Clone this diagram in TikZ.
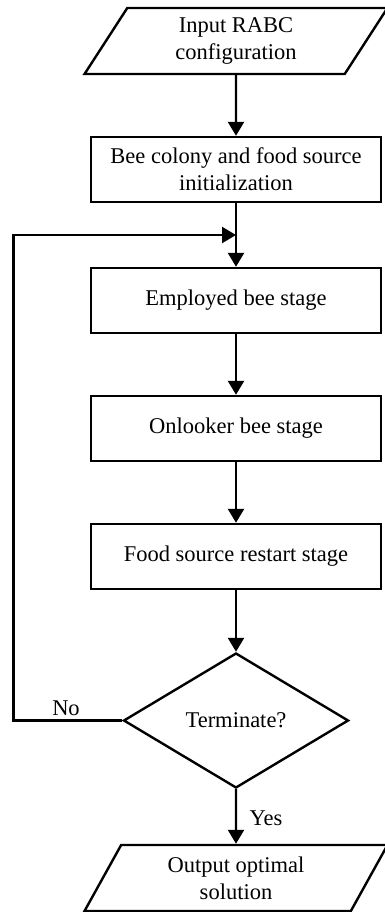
\documentclass[tikz,border=0pt]{standalone}
\usepackage{fontspec}
\setmainfont{Liberation Serif}
\usetikzlibrary{arrows.meta}
\usetikzlibrary{shapes.geometric}
\usetikzlibrary{calc}

\tikzset{
  io/.style={draw, trapezium, trapezium left angle=63, trapezium right angle=117,
    trapezium stretches=true, minimum width=303pt, minimum height=66pt,
    align=center, inner sep=0pt},
  stage/.style={draw, rectangle, minimum width=290pt, minimum height=65pt, align=center},
  test/.style={draw, diamond, minimum width=225pt, minimum height=135pt, inner sep=0pt}
}

\begin{document}
\begin{tikzpicture}[>={Triangle[length=14pt,width=16pt]},x=1pt,y=-1pt,line width=2.4pt,
  font=\fontsize{22.5}{27}\selectfont]
\useasboundingbox (0,0) rectangle (385,912);
\node[io] (in) at (236,41) {Input RABC\\configuration};
\node[stage] (init) at (236,169.5) {Bee colony and food source\\initialization};
\node[stage] (emp) at (236,300.5) {Employed bee stage};
\node[stage] (onl) at (236,428.5) {Onlooker bee stage};
\node[stage] (food) at (236,556.5) {Food source restart stage};
\node[test] (term) at (236,720.5) {Terminate?};
\node[io] (out) at (236,878) {Output optimal\\solution};
\coordinate (join) at ($(init.south)!0.5!(emp.north)$);
\draw[->] (in) -- (init);
\draw[->] (init) -- (emp);
\draw[->] (emp) -- (onl);
\draw[->] (onl) -- (food);
\draw[->] (food) -- (term);
\draw[->] (term) -- (out);
\draw[->] (term.west) -- ++(-109,0) |- (join);
\node (no) at (66,708) {No};
\node (yes) at (266,818) {Yes};
\end{tikzpicture}
\end{document}
